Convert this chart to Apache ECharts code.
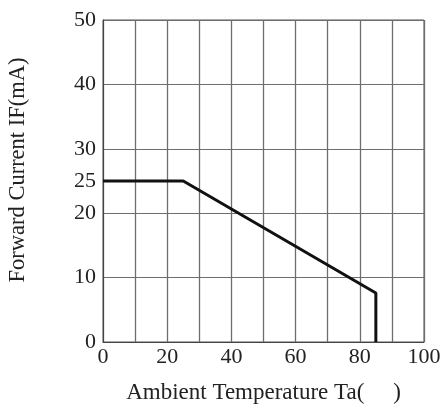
<!DOCTYPE html>
<html>
<head>
<meta charset="utf-8">
<script src="https://cdn.jsdelivr.net/npm/echarts@6/dist/echarts.min.js"></script>
<style>html,body{margin:0;padding:0;background:#fff}#c{width:442px;height:409px}</style>
</head>
<body>
<div id="c"></div>
<script>
const temperature = [0, 25, 85, 85];
const forwardCurrent = [25, 25, 7.6, 0];
const xTickLabels = [0, 20, 40, 60, 80, 100];
const yTickLabels = [0, 10, 20, 25, 30, 40, 50];
const xAxisName = 'Ambient Temperature Ta(\u2003 )';
const yAxisName = 'Forward Current IF(mA)';

const font = '"Liberation Serif", "Times New Roman", serif';
const gridColor = '#6e6e6e';
const chart = echarts.init(document.getElementById('c'), null, {renderer: 'canvas'});
chart.setOption({
  animation: false,
  backgroundColor: '#fff',
  grid: {left: 103, right: 18, top: 20, bottom: 67, show: true, borderColor: '#555', borderWidth: 1,
    containLabel: false, outerBoundsMode: 'none'},
  xAxis: {
    type: 'value', min: 0, max: 100, interval: 10,
    name: xAxisName, nameLocation: 'middle', nameGap: 39,
    nameTextStyle: {fontFamily: font, fontSize: 23, color: '#222'},
    axisLine: {show: true, lineStyle: {color: '#444', width: 1}},
    axisTick: {show: false},
    axisLabel: {fontFamily: font, fontSize: 22, color: '#222', margin: 4,
      formatter: v => xTickLabels.includes(v) ? String(v) : ''},
    splitLine: {show: true, lineStyle: {color: gridColor, width: 1.3}}
  },
  yAxis: {
    type: 'value', min: 0, max: 50, interval: 5,
    name: yAxisName, nameLocation: 'middle', nameGap: 73,
    nameTextStyle: {fontFamily: font, fontSize: 22.5, color: '#222', padding: [0, 0, 0, 22]},
    axisLine: {show: true, lineStyle: {color: '#444', width: 1}},
    axisTick: {show: false},
    axisLabel: {fontFamily: font, fontSize: 22, color: '#222', margin: 7,
      formatter: v => yTickLabels.includes(v) ? String(v) : ''},
    splitLine: {show: true, lineStyle: {color: [gridColor, 'rgba(0,0,0,0)'], width: 1}}
  },
  series: [{
    type: 'line',
    data: temperature.map((t, i) => [t, forwardCurrent[i]]),
    symbol: 'none',
    lineStyle: {color: '#111', width: 3},
    z: 5
  }]
});
</script>
</body>
</html>
